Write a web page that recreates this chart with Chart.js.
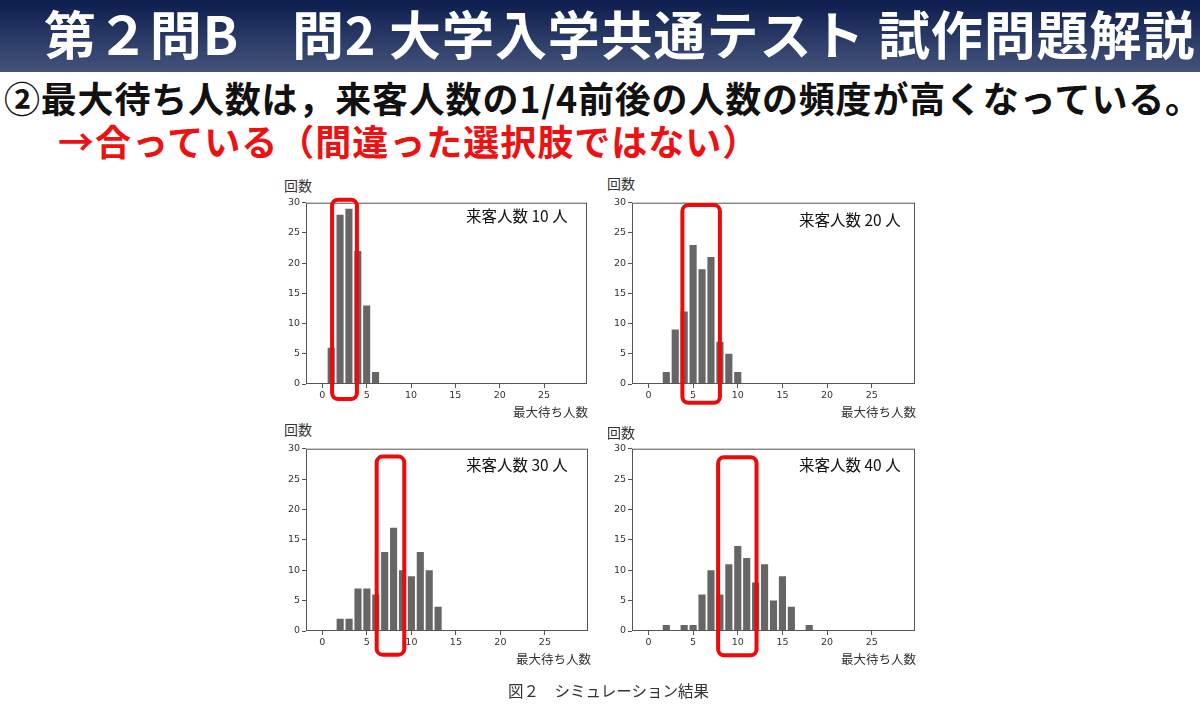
<!DOCTYPE html>
<html lang="ja">
<head>
<meta charset="utf-8">
<script src="https://cdn.jsdelivr.net/npm/chart.js"></script>
<style>
  html, body { margin: 0; padding: 0; background: #fff; }
  body { width: 1200px; height: 705px; position: relative; overflow: hidden;
         font-family: "Noto Sans CJK JP", "Noto Sans", sans-serif; }
  .band { position: absolute; left: 0; top: 0; width: 1200px; height: 72px;
          background: linear-gradient(#0c1d4e, #44547b); }
  .title { position: absolute; left: 44px; top: 1px; color: #fff; font-weight: 700;
           font-size: 52px; letter-spacing: 0.9px; line-height: 64px; white-space: nowrap; }
  .line2 { position: absolute; left: 4px; top: 74px; font-size: 36px; font-weight: 700;
           letter-spacing: 0.8px; line-height: 46px; white-space: nowrap; color: #111; }
  .line3 { position: absolute; left: 58px; top: 117px; font-size: 36px; font-weight: 700;
           letter-spacing: 1px; line-height: 46px; white-space: nowrap; color: #ee1111; }
  canvas { position: absolute; }
  .lbl { position: absolute; color: #333; white-space: nowrap; line-height: 1; }
  .ylab { font-size: 14px; }
  .xlab { font-size: 12.5px; }
  .note { font-size: 15.5px; color: #111; }
  .caption { position: absolute; left: 508px; top: 683px; font-size: 15.5px; color: #333;
             white-space: nowrap; line-height: 1; }
</style>
</head>
<body>
<div class="band"></div>
<div class="title">第２問B　問2 大学入学共通テスト 試作問題解説</div>
<div class="line2">②最大待ち人数は，来客人数の1/4前後の人数の頻度が高くなっている。</div>
<div class="line3">→合っている（間違った選択肢ではない）</div>

<canvas id="c1" width="320" height="217" style="left:280px;top:195px"></canvas>
<canvas id="c2" width="322" height="217" style="left:606px;top:195px"></canvas>
<canvas id="c3" width="321" height="218" style="left:280px;top:441px"></canvas>
<canvas id="c4" width="322" height="218" style="left:606px;top:441px"></canvas>

<div class="lbl ylab" style="left:284px;top:178px">回数</div>
<div class="lbl ylab" style="left:607px;top:176px">回数</div>
<div class="lbl ylab" style="left:284px;top:422px">回数</div>
<div class="lbl ylab" style="left:607px;top:425px">回数</div>

<div class="lbl xlab" style="left:513px;top:406px">最大待ち人数</div>
<div class="lbl xlab" style="left:841px;top:406px">最大待ち人数</div>
<div class="lbl xlab" style="left:516px;top:653px">最大待ち人数</div>
<div class="lbl xlab" style="left:841px;top:653px">最大待ち人数</div>

<div class="lbl note" style="left:466px;top:208px">来客人数 10 人</div>
<div class="lbl note" style="left:799px;top:212px">来客人数 20 人</div>
<div class="lbl note" style="left:466px;top:457px">来客人数 30 人</div>
<div class="lbl note" style="left:799px;top:457px">来客人数 40 人</div>

<div class="caption">図２　シミュレーション結果</div>

<script>
// 最大待ち人数 (x) と回数 (y)
const maxWait = [0, 1, 2, 3, 4, 5, 6, 7, 8, 9, 10, 11, 12, 13, 14, 15, 16, 17, 18, 19, 20, 21, 22, 23, 24, 25, 26, 27, 28];
const counts10 = [0, 6, 28, 29, 22, 13, 2, 0, 0, 0, 0, 0, 0, 0, 0, 0, 0, 0, 0, 0, 0, 0, 0, 0, 0, 0, 0, 0, 0];
const counts20 = [0, 0, 2, 9, 12, 23, 19, 21, 7, 5, 2, 0, 0, 0, 0, 0, 0, 0, 0, 0, 0, 0, 0, 0, 0, 0, 0, 0, 0];
const counts30 = [0, 0, 2, 2, 7, 7, 6, 13, 17, 10, 9, 13, 10, 4, 0, 0, 0, 0, 0, 0, 0, 0, 0, 0, 0, 0, 0, 0, 0];
const counts40 = [0, 0, 1, 0, 1, 1, 6, 10, 6, 11, 14, 12, 8, 11, 5, 9, 4, 0, 1, 0, 0, 0, 0, 0, 0, 0, 0, 0, 0];
const xTicks = [0, 5, 10, 15, 20, 25];
const yTicks = [0, 5, 10, 15, 20, 25, 30];

// 赤枠で囲んだ範囲 (データ座標: [x始, x終, y上, y下])
const highlight10 = [1.1, 3.9, 30.5, -2.5];
const highlight20 = [3.8, 8.0, 29.6, -3.1];
const highlight30 = [6.1, 9.2, 28.7, -3.9];
const highlight40 = [7.8, 12.1, 28.6, -4.0];

const framePlugin = {
  id: 'frame',
  afterDraw(chart, args, opts) {
    const { ctx, chartArea: a, scales } = chart;
    ctx.save();
    ctx.strokeStyle = '#555';
    ctx.lineWidth = 1;
    ctx.strokeRect(a.left + 0.5, a.top + 0.5, a.right - a.left - 1, a.bottom - a.top - 1);

    const h = opts.box;
    if (h) {
      const x1 = scales.x.getPixelForValue(h[0]);
      const x2 = scales.x.getPixelForValue(h[1]);
      const y1 = scales.y.getPixelForValue(h[2]);
      const y2 = scales.y.getPixelForValue(h[3]);
      ctx.strokeStyle = '#ee0a0a';
      ctx.lineWidth = 4;
      ctx.beginPath();
      if (ctx.roundRect) ctx.roundRect(x1, y1, x2 - x1, y2 - y1, 6);
      else ctx.rect(x1, y1, x2 - x1, y2 - y1);
      ctx.stroke();
    }
    ctx.restore();
  }
};

function makeChart(id, counts, box) {
  const ctx = document.getElementById(id);
  return new Chart(ctx, {
    type: 'bar',
    data: {
      datasets: [{
        data: maxWait.map((x, i) => ({ x: x, y: counts[i] })),
        backgroundColor: '#666666',
        borderWidth: 0,
        barPercentage: 0.8,
        categoryPercentage: 1.0
      }]
    },
    options: {
      responsive: false,
      animation: false,
      layout: { padding: { top: 6, right: 13, left: 0, bottom: 0 } },
      plugins: {
        legend: { display: false },
        tooltip: { enabled: false },
        frame: { box: box }
      },
      scales: {
        x: {
          type: 'linear',
          min: -1.84,
          max: 29.84,
          offset: false,
          afterBuildTicks: s => { s.ticks = xTicks.map(v => ({ value: v })); },
          afterFit: s => { s.height = 28; },
          grid: { drawOnChartArea: false, offset: false, tickLength: 4, color: '#555' },
          border: { display: false },
          ticks: { color: '#333', font: { size: 9.5, family: 'DejaVu Sans' }, padding: 2, maxRotation: 0 }
        },
        y: {
          min: 0,
          max: 30,
          afterBuildTicks: s => { s.ticks = yTicks.map(v => ({ value: v })); },
          afterFit: s => { s.width = 26; },
          grid: { drawOnChartArea: false, tickLength: 4, color: '#555' },
          border: { display: false },
          ticks: { color: '#333', font: { size: 9.5, family: 'DejaVu Sans' }, padding: 2 }
        }
      }
    },
    plugins: [framePlugin]
  });
}

makeChart('c1', counts10, highlight10);
makeChart('c2', counts20, highlight20);
makeChart('c3', counts30, highlight30);
makeChart('c4', counts40, highlight40);
</script>
</body>
</html>
